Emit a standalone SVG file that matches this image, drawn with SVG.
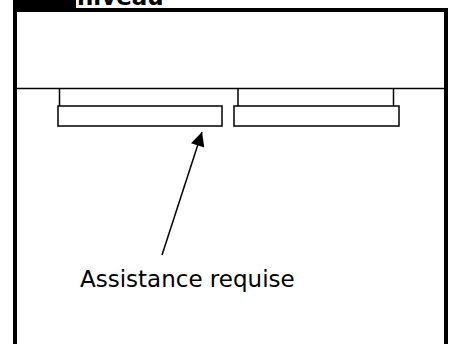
<svg xmlns="http://www.w3.org/2000/svg" width="454" height="344" viewBox="0 0 454 344">
<style>
.thin{fill:none;stroke:#000;stroke-width:1.5}
.frame{fill:none;stroke:#000;stroke-width:4}
.lbl{font-family:"DejaVu Sans",sans-serif;font-size:23px;fill:#000}
</style>
<defs>
<marker id="ah" viewBox="0 0 10 10" refX="10" refY="5" markerWidth="15" markerHeight="14" markerUnits="userSpaceOnUse" orient="auto">
<path d="M0,0 L10,5 L0,10 z" fill="#000"/>
</marker>
</defs>
<rect width="454" height="344" fill="#fff"/>
<g id="frame">
<rect x="13" y="0" width="63" height="10" fill="#000"/>
<text x="77" y="5" font-family="DejaVu Sans, sans-serif" font-weight="bold" font-size="23">niveau</text>
<path class="frame" d="M15,360 V10 H446 V360"/>
<line class="thin" x1="17" y1="88.5" x2="444" y2="88.5"/>
</g>
<g id="left-rail">
<line class="thin" x1="59.5" y1="88.5" x2="59.5" y2="106"/>
<rect class="thin" x="58" y="106" width="164" height="20"/>
</g>
<g id="right-rail">
<line class="thin" x1="238" y1="88.5" x2="238" y2="106"/>
<line class="thin" x1="393.5" y1="88.5" x2="393.5" y2="106"/>
<rect class="thin" x="234" y="106" width="165" height="20"/>
</g>
<g id="connectors">
<line x1="162" y1="255" x2="202" y2="132" stroke="#000" stroke-width="1.5" marker-end="url(#ah)"/>
</g>
<g id="label">
<text class="lbl" x="80" y="287">Assistance requise</text>
</g>
</svg>
